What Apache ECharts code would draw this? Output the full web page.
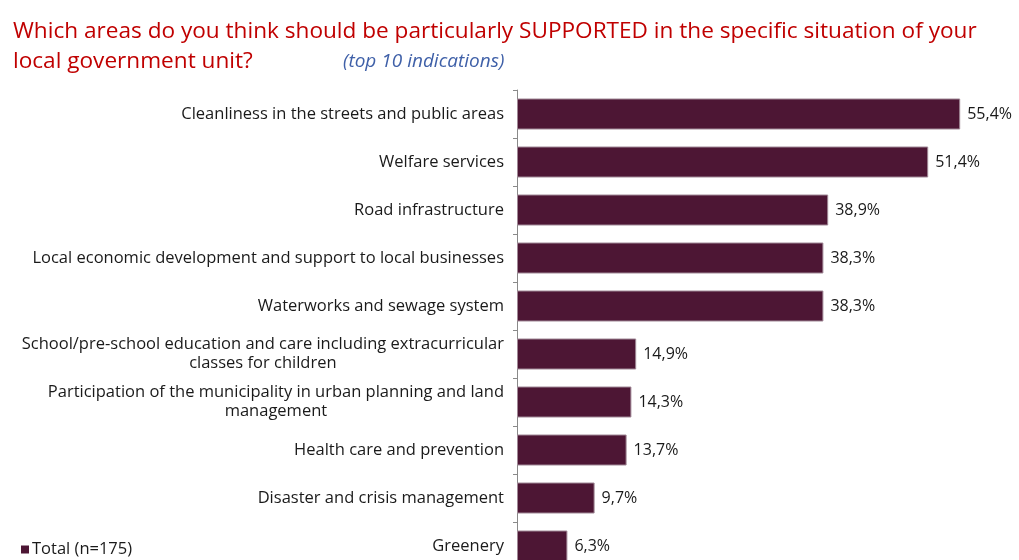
<!DOCTYPE html>
<html>
<head>
<meta charset="utf-8">
<script src="https://cdn.jsdelivr.net/npm/echarts@6/dist/echarts.min.js"></script>
<style>
  html, body { margin: 0; padding: 0; background: #ffffff; }
  #chart { width: 1019px; height: 560px; }
</style>
</head>
<body>
<div id="chart"></div>
<script>
// Areas to be supported, top 10 indications (share of respondents, %)
const categories = [
  'Cleanliness in the streets and public areas',
  'Welfare services',
  'Road infrastructure',
  'Local economic development and support to local businesses',
  'Waterworks and sewage system',
  'School/pre-school education and care including extracurricular\nclasses for children',
  'Participation of the municipality in urban planning and land\nmanagement',
  'Health care and prevention',
  'Disaster and crisis management',
  'Greenery'
];
const totalValues = [55.4, 51.4, 38.9, 38.3, 38.3, 14.9, 14.3, 13.7, 9.7, 6.3];
const seriesName = 'Total (n=175)';
const titleText = 'Which areas do you think should be particularly SUPPORTED in the specific situation of your\nlocal government unit?';
const subtitleText = '(top 10 indications)';

const FONT = 'Open Sans';
const TEXT_COLOR = '#1a1a1a';
const BAR_COLOR = '#4d1634';

const chart = echarts.init(document.getElementById('chart'));

chart.setOption({
  animation: false,
  backgroundColor: '#ffffff',
  title: [
    {
      text: titleText,
      left: 8,
      top: 12,
      textStyle: { color: '#c00000', fontFamily: FONT, fontSize: 22.6, fontWeight: 'normal', lineHeight: 30 }
    },
    {
      text: subtitleText,
      left: 338,
      top: 46,
      textStyle: { color: '#3f60a8', fontFamily: FONT, fontSize: 19, fontStyle: 'italic', fontWeight: 'normal', lineHeight: 22 }
    }
  ],
  legend: {
    left: 16,
    top: 536,
    icon: 'rect',
    itemWidth: 8,
    itemHeight: 8,
    itemStyle: { borderWidth: 0 },
    textStyle: { color: TEXT_COLOR, fontFamily: FONT, fontSize: 16.5, padding: [0, 0, 0, -2] },
    data: [seriesName]
  },
  grid: { left: 517, top: 90, right: 22, bottom: -10, outerBoundsMode: 'none', containLabel: false },
  xAxis: {
    type: 'value',
    min: 0,
    max: 60,
    show: false
  },
  yAxis: {
    type: 'category',
    inverse: true,
    data: categories,
    axisLine: { show: true, lineStyle: { color: '#8a8a8a', width: 1 } },
    axisTick: { show: true, length: 4, alignWithLabel: false, lineStyle: { color: '#8a8a8a' } },
    axisLabel: {
      margin: 13,
      align: 'right',
      color: TEXT_COLOR,
      fontFamily: FONT,
      fontSize: 16.5,
      lineHeight: 19,
      formatter: function (v) {
        return v.split('\n').map(function (l) { return '{c|' + l + '}'; }).join('\n');
      },
      rich: { c: { align: 'center', fontFamily: FONT, fontSize: 16.5, lineHeight: 19, color: TEXT_COLOR } }
    }
  },
  series: [{
    name: seriesName,
    type: 'bar',
    data: totalValues,
    barWidth: 31,
    itemStyle: { color: BAR_COLOR, borderColor: '#a08896', borderWidth: 1 },
    label: {
      show: true,
      position: 'right',
      distance: 7,
      color: TEXT_COLOR,
      fontFamily: FONT,
      fontSize: 16,
      formatter: function (p) { return p.value.toFixed(1).replace('.', ',') + '%'; }
    }
  }]
});
</script>
</body>
</html>
